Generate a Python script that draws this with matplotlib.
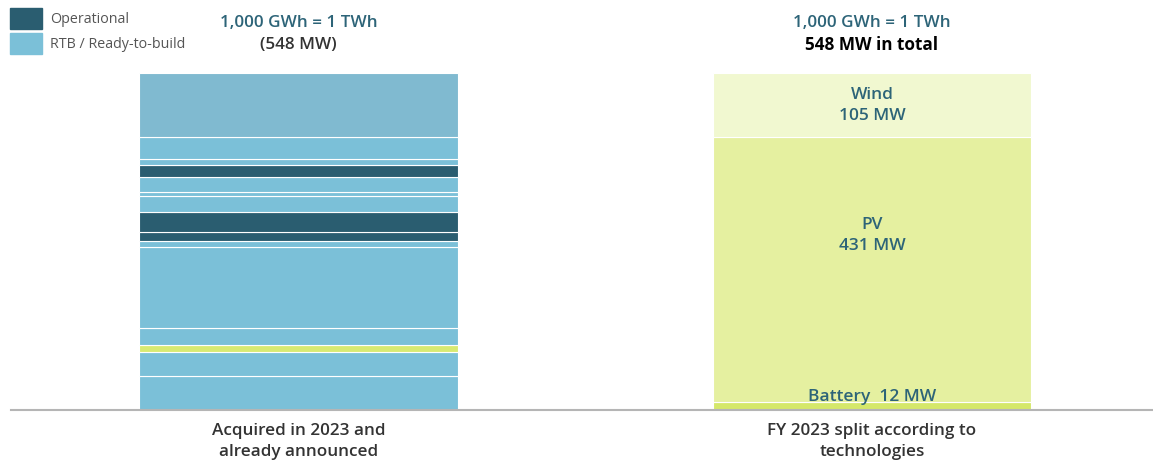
import matplotlib
matplotlib.use('Agg')
import matplotlib.pyplot as plt
from matplotlib.patches import Patch

plt.rcParams['font.family'] = ['Open Sans', 'DejaVu Sans']

C_OPER = '#2A5D70'
C_RTB = '#7BC0D8'
C_RTB_TOP = '#80BAD0'
C_BATT = '#D8EA72'
C_WIND = '#F1F8D0'
C_PV = '#E5F0A0'
C_BATT_R = '#D5E86A'
C_TEAL = '#2D6478'
C_GREY = '#333333'

# Left bar: stacked project segments (MW, bottom to top)
left_mw = [55, 38, 12, 28, 132, 9, 15, 32, 27, 6, 24, 20, 10, 35, 105]
left_kind = ['rtb', 'rtb', 'batt', 'rtb', 'rtb', 'rtb', 'oper', 'oper',
             'rtb', 'rtb', 'rtb', 'oper', 'rtb', 'rtb', 'top']

# Right bar: split by technology (MW, bottom to top)
tech = ['Battery', 'PV', 'Wind']
tech_mw = [12, 431, 105]

categories = ['Acquired in 2023 and\nalready announced',
              'FY 2023 split according to\ntechnologies']

kind_color = {'rtb': C_RTB, 'oper': C_OPER, 'batt': C_BATT, 'top': C_RTB_TOP}
tech_color = {'Battery': C_BATT_R, 'PV': C_PV, 'Wind': C_WIND}

fig = plt.figure(figsize=(11.53, 4.63), dpi=100)
ax = fig.add_axes([11 / 1153, 1 - 409.5 / 463, 1142 / 1153, 336.5 / 463])

W = 0.556
bottom = 0
for mw, k in zip(left_mw, left_kind):
    ax.bar(0, mw, W, bottom=bottom, color=kind_color[k], edgecolor='white',
           linewidth=0.8, zorder=2)
    bottom += mw

bottom = 0
for t, mw in zip(tech, tech_mw):
    ax.bar(1, mw, W, bottom=bottom, color=tech_color[t], edgecolor='white',
           linewidth=0.8, zorder=2)
    if t == 'Battery':
        ax.text(1, 20, f'{t}  {mw} MW', ha='center', va='center',
                fontsize=12.5, fontweight='semibold', color=C_TEAL)
    else:
        frac = 0.63 if t == 'PV' else 0.5
        ax.text(1, bottom + mw * frac, f'{t}\n{mw} MW', ha='center', va='center',
                fontsize=12.5, fontweight='semibold', color=C_TEAL, linespacing=1.45)
    bottom += mw

total = sum(tech_mw)
ax.set_xlim(-0.5013, 1.49)
ax.set_ylim(0, total)
for s in ['top', 'right', 'left']:
    ax.spines[s].set_visible(False)
ax.spines['bottom'].set_color('#B5B5B5')
ax.spines['bottom'].set_linewidth(1.5)
ax.set_yticks([])
ax.set_xticks([0, 1])
ax.set_xticklabels(categories, fontsize=12.3, fontweight='semibold', color=C_GREY,
                   linespacing=1.4)
ax.tick_params(axis='x', length=0, pad=10)

# headers
fig.text(298.5 / 1153, 1 - 23 / 463, '1,000 GWh = 1 TWh', ha='center', va='center',
         fontsize=12.3, fontweight='semibold', color=C_TEAL)
fig.text(298.5 / 1153, 1 - 45 / 463, f'({total} MW)', ha='center', va='center',
         fontsize=12.3, fontweight='semibold', color=C_GREY)
fig.text(872 / 1153, 1 - 23 / 463, '1,000 GWh = 1 TWh', ha='center', va='center',
         fontsize=12.3, fontweight='semibold', color=C_TEAL)
fig.text(872 / 1153, 1 - 45 / 463, f'{total} MW in total', ha='center', va='center',
         fontsize=12.3, fontweight='bold', color='black')

fig.legend(handles=[Patch(color=C_OPER, label='Operational'),
                    Patch(color=C_RTB, label='RTB / Ready-to-build')],
           loc='upper left', bbox_to_anchor=(4 / 1153, 1 - 2 / 463), frameon=False,
           fontsize=10.3, handlelength=2.25, handleheight=1.9, handletextpad=0.55,
           labelspacing=0.3, labelcolor='#555555', borderaxespad=0)

fig.savefig('out.png', dpi=100, facecolor='white')
